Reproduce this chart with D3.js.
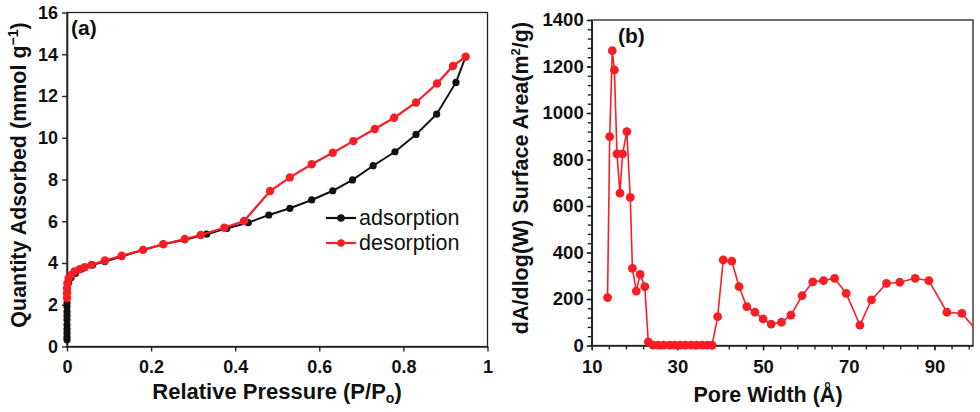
<!DOCTYPE html>
<html>
<head>
<meta charset="utf-8">
<script src="https://cdn.jsdelivr.net/npm/d3@7"></script>
<style>
  body { margin: 0; background: #fff; }
  svg text { font-family: "Liberation Sans", Arial, sans-serif; fill: #111; }
</style>
</head>
<body>
<svg id="chart" width="980" height="412"></svg>
<script>
// (a) isotherm
const adsP = [0, 0, 0, 0, 0, 0, 0, 0, 0, 0, 0.001, 0.004, 0.01, 0.02, 0.035, 0.061, 0.090, 0.130, 0.181, 0.229,
  0.280, 0.332, 0.380, 0.431, 0.480, 0.530, 0.582, 0.632, 0.679, 0.728, 0.780, 0.830, 0.879, 0.925, 0.948];
const adsQ = [0.32, 0.45, 0.64, 0.83, 1.04, 1.28, 1.47, 1.67, 1.91, 2.08, 2.6, 3.05, 3.3, 3.5, 3.72, 3.91, 4.07, 4.31, 4.63, 4.90,
  5.11, 5.38, 5.66, 5.93, 6.30, 6.62, 7.02, 7.46, 7.98, 8.66, 9.33, 10.16, 11.13, 12.65, 13.88];
const desP = [0.948, 0.918, 0.880, 0.830, 0.778, 0.732, 0.681, 0.632, 0.582, 0.530, 0.483, 0.421, 0.374, 0.318, 0.280,
  0.229, 0.181, 0.130, 0.090, 0.058, 0.042, 0.030, 0.018, 0.010, 0.004, 0.001, 0, 0, 0];
const desQ = [13.88, 13.44, 12.60, 11.69, 10.96, 10.42, 9.84, 9.28, 8.73, 8.10, 7.45, 6.01, 5.69, 5.34, 5.15,
  4.90, 4.63, 4.35, 4.12, 3.91, 3.80, 3.70, 3.59, 3.43, 3.27, 3.03, 2.79, 2.55, 2.32];
const pressTicks = [0, 0.2, 0.4, 0.6, 0.8, 1];
const pressLabels = ["0", "0.2", "0.4", "0.6", "0.8", "1"];
const qTicks = [0, 2, 4, 6, 8, 10, 12, 14, 16];

// (b) pore size distribution
const poreW = [13.7, 14.2, 14.8, 15.3, 15.9, 16.6, 17.2, 18.2, 19.0, 19.5, 20.4, 21.3, 22.4, 23.2,
  24.3, 25.5, 26.8, 28.2, 29.4, 30.7, 31.9, 33.2, 34.5, 35.8, 37.1, 38.1,
  39.4, 40.7, 42.7, 44.4, 46.2, 48.1, 50.0, 51.9, 54.3, 56.5, 59.1, 61.6, 64.1, 66.7, 69.4,
  72.6, 75.3, 78.8, 81.9, 85.5, 88.7, 92.9, 96.4, 101];
const poreArea = [206, 898, 1268, 1185, 824, 655, 824, 920, 637, 332, 234, 306, 253, 16,
  2, 2, 2, 2, 2, 2, 2, 2, 2, 2, 2, 2,
  124, 368, 363, 253, 167, 143, 114, 92, 100, 131, 214, 274, 279, 289, 224,
  88, 196, 267, 272, 289, 279, 143, 138, 40];
const widthTicks = [10, 30, 50, 70, 90];
const areaTicks = [0, 200, 400, 600, 800, 1000, 1200, 1400];

const svg = d3.select("#chart");
const red = "#fb1d24";

// ---------- panel (a)
const xa = d3.scaleLinear().domain([0, 1]).range([67, 487.5]);
const ya = d3.scaleLinear().domain([0, 16]).range([346.5, 12.5]);
const ga = svg.append("g");

ga.append("rect")
  .attr("x", xa(0)).attr("y", ya(16))
  .attr("width", xa(1) - xa(0)).attr("height", ya(0) - ya(16))
  .attr("fill", "none").attr("stroke", "#222").attr("stroke-width", 1.3);

let axA = ga.append("g").attr("transform", `translate(0,${ya(0)})`)
  .call(d3.axisBottom(xa).tickValues(pressTicks).tickFormat((d, i) => pressLabels[i]).tickSize(5).tickSizeOuter(0).tickPadding(9));
let ayA = ga.append("g").attr("transform", `translate(${xa(0)},0)`)
  .call(d3.axisLeft(ya).tickValues(qTicks).tickSize(5).tickSizeOuter(0).tickPadding(4));
[axA, ayA].forEach(a => {
  a.select(".domain").attr("stroke", "#222").attr("stroke-width", 1.6);
  a.selectAll(".tick line").attr("stroke", "#222").attr("stroke-width", 1.4);
  a.selectAll("text").attr("font-size", 18).attr("font-weight", "bold")
    .attr("font-family", "Liberation Sans, Arial, sans-serif").attr("fill", "#111");
});

const lineA = d3.line().x(d => xa(d[0])).y(d => ya(d[1]));
const adsData = adsP.map((p, i) => [p, adsQ[i]]);
const desData = desP.map((p, i) => [p, desQ[i]]);

ga.append("path").datum(adsData).attr("d", lineA)
  .attr("fill", "none").attr("stroke", "#111").attr("stroke-width", 2);
ga.selectAll("circle.ads").data(adsData).enter().append("circle").attr("class", "ads")
  .attr("cx", d => xa(d[0])).attr("cy", d => ya(d[1])).attr("r", 3.6).attr("fill", "#111");

ga.append("path").datum(desData).attr("d", lineA)
  .attr("fill", "none").attr("stroke", red).attr("stroke-width", 2.2);
ga.selectAll("circle.des").data(desData).enter().append("circle").attr("class", "des")
  .attr("cx", d => xa(d[0])).attr("cy", d => ya(d[1])).attr("r", 4.2).attr("fill", red);

// legend
const legA = [["adsorption", "#111", 218], ["desorption", red, 243]];
legA.forEach(l => {
  ga.append("line").attr("x1", 326).attr("x2", 356).attr("y1", l[2]).attr("y2", l[2])
    .attr("stroke", l[1]).attr("stroke-width", 2.2);
  ga.append("circle").attr("cx", 341).attr("cy", l[2]).attr("r", 3.8).attr("fill", l[1]);
  ga.append("text").attr("x", 359).attr("y", l[2] + 7).attr("font-size", 21.5).text(l[0]);
});

ga.append("text").attr("x", 71).attr("y", 35).attr("font-size", 21).attr("font-weight", "bold").text("(a)");

let tA = ga.append("text").attr("x", 277).attr("y", 399).attr("text-anchor", "middle")
  .attr("font-size", 22).attr("font-weight", "bold");
tA.append("tspan").text("Relative Pressure (P/P");
tA.append("tspan").attr("font-size", 14).attr("dy", 4).text("o");
tA.append("tspan").attr("dy", -4).text(")");

let tyA = ga.append("text").attr("transform", "translate(26,175) rotate(-90)").attr("text-anchor", "middle")
  .attr("font-size", 21.5).attr("font-weight", "bold");
tyA.append("tspan").text("Quantity Adsorbed (mmol g");
tyA.append("tspan").attr("font-size", 14).attr("dy", -8).text("−1");
tyA.append("tspan").attr("dy", 8).text(")");

// ---------- panel (b)
const xb = d3.scaleLinear().domain([10, 99]).range([591.7, 973]);
const yb = d3.scaleLinear().domain([0, 1400]).range([345.5, 20]);
const gb = svg.append("g");

gb.append("defs").append("clipPath").attr("id", "clipB").append("rect")
  .attr("x", xb(10)).attr("y", yb(1400) - 6).attr("width", xb(99) - xb(10)).attr("height", yb(0) - yb(1400) + 12);

gb.append("rect")
  .attr("x", xb(10)).attr("y", yb(1400))
  .attr("width", xb(99) - xb(10)).attr("height", yb(0) - yb(1400))
  .attr("fill", "none").attr("stroke", "#222").attr("stroke-width", 1.3);

const minorX = d3.range(10, 99, 4);
const minorY = d3.range(0, 1401, 40);
gb.append("g").attr("transform", `translate(0,${yb(0)})`)
  .call(d3.axisBottom(xb).tickValues(minorX).tickFormat("").tickSize(4).tickSizeOuter(0))
  .call(g => g.select(".domain").remove());
gb.append("g").attr("transform", `translate(${xb(10)},0)`)
  .call(d3.axisLeft(yb).tickValues(minorY).tickFormat("").tickSize(4).tickSizeOuter(0))
  .call(g => g.select(".domain").remove());

let axB = gb.append("g").attr("transform", `translate(0,${yb(0)})`)
  .call(d3.axisBottom(xb).tickValues(widthTicks).tickFormat(d3.format("d")).tickSize(5).tickSizeOuter(0).tickPadding(9));
let ayB = gb.append("g").attr("transform", `translate(${xb(10)},0)`)
  .call(d3.axisLeft(yb).tickValues(areaTicks).tickFormat(d3.format("d")).tickSize(5).tickSizeOuter(0).tickPadding(3));
gb.selectAll(".tick line").attr("stroke", "#222").attr("stroke-width", 1.4);
[axB, ayB].forEach(a => {
  a.select(".domain").attr("stroke", "#222").attr("stroke-width", 1.6);
  a.selectAll("text").attr("font-size", 18.5).attr("font-weight", "bold")
    .attr("font-family", "Liberation Sans, Arial, sans-serif").attr("fill", "#111");
});

const poreData = poreW.map((w, i) => [w, poreArea[i]]);
const lineB = d3.line().x(d => xb(d[0])).y(d => yb(d[1]));
const plotB = gb.append("g").attr("clip-path", "url(#clipB)");
plotB.append("path").datum(poreData).attr("d", lineB)
  .attr("fill", "none").attr("stroke", red).attr("stroke-width", 1.6);
plotB.selectAll("circle").data(poreData.filter(d => d[0] <= 99)).enter().append("circle")
  .attr("cx", d => xb(d[0])).attr("cy", d => yb(d[1])).attr("r", 4.4).attr("fill", red);

gb.append("text").attr("x", 618).attr("y", 43).attr("font-size", 21).attr("font-weight", "bold").text("(b)");

gb.append("text").attr("x", 768).attr("y", 402).attr("text-anchor", "middle")
  .attr("font-size", 21.5).attr("font-weight", "bold").text("Pore Width (Å)");

let tyB = gb.append("text").attr("transform", "translate(528,178) rotate(-90)").attr("text-anchor", "middle")
  .attr("font-size", 21.5).attr("font-weight", "bold");
tyB.append("tspan").text("dA/dlog(W) Surface Area(m");
tyB.append("tspan").attr("font-size", 13).attr("dy", -8).text("2");
tyB.append("tspan").attr("dy", 8).text("/g)");
</script>
</body>
</html>
